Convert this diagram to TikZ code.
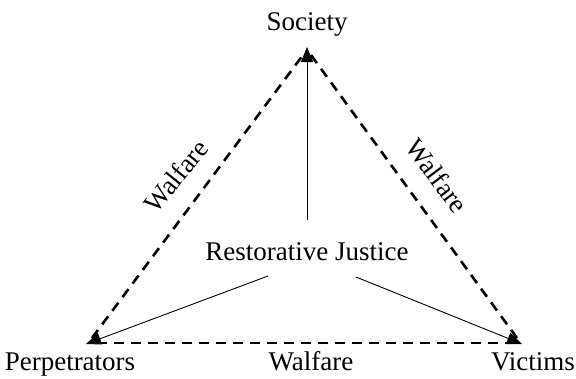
\documentclass[tikz,border=0pt]{standalone}
\usepackage{fontspec}
\setmainfont{Liberation Serif}
\usetikzlibrary{arrows.meta}
\begin{document}
\begin{tikzpicture}[x=1pt,y=-1pt,
  lbl/.style={font=\fontsize{27}{32}\selectfont, inner sep=0pt},
  edge/.style={line width=2.6pt, dash pattern=on 10pt off 7pt},
  link/.style={line width=0.9pt, -{Triangle[length=15pt,width=12pt]}}]
\useasboundingbox (0,0) rectangle (576,378);
\coordinate (T) at (307,47);
\coordinate (L) at (86,344);
\coordinate (R) at (522,344);
\coordinate (T1) at (303,55);
\coordinate (T2) at (311,55);
\coordinate (L1) at (92,338);
\coordinate (L2) at (97,343);
\coordinate (R1) at (517,338);
\coordinate (R2) at (512,343);
\coordinate (Cu) at (307,220);
\coordinate (Cl) at (268,276);
\coordinate (Cr) at (356,277);
\node[lbl, anchor=base] (soc) at (307,30) {Society};
\node[lbl, anchor=base] (rj) at (307,260) {Restorative Justice};
\node[lbl, anchor=base] (per) at (70,370) {Perpetrators};
\node[lbl, anchor=base] (vic) at (533,370) {Victims};
\node[lbl, anchor=base] (wb) at (311,370) {Walfare};
\node[lbl, rotate=51] (wl) at (176,176) {Walfare};
\node[lbl, rotate=-53] (wr) at (437,176) {Walfare};
\draw[edge] (L1) -- (T1);
\draw[edge] (T2) -- (R1);
\draw[edge] (L2) -- (R2);
\draw[link] (Cu) -- (T);
\draw[link] (Cl) -- (L);
\draw[link] (Cr) -- (R);
\end{tikzpicture}
\end{document}
